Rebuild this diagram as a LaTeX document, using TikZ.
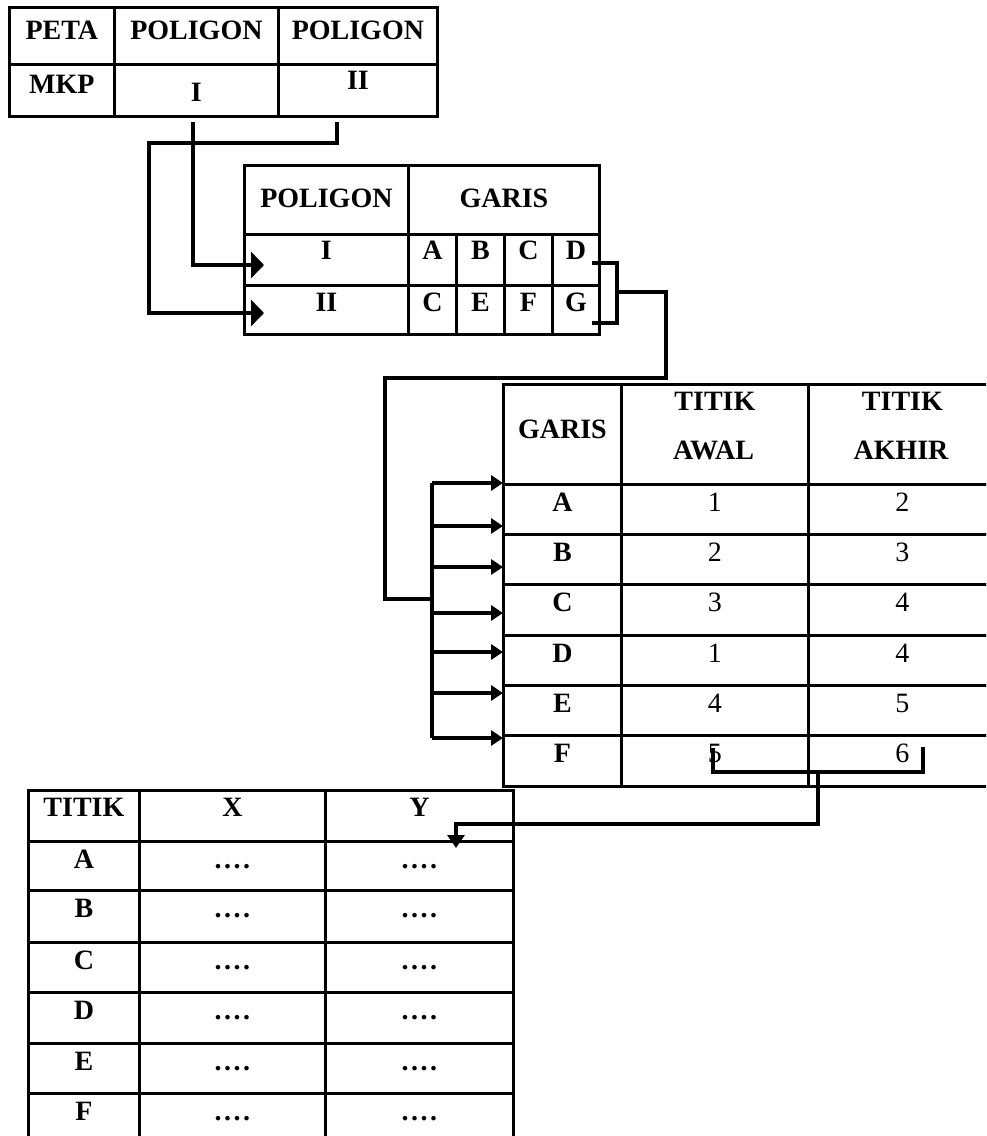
\documentclass[tikz,border=0pt]{standalone}
\usepackage{fontspec}
\setmainfont{Liberation Serif}
\usetikzlibrary{arrows.meta}
\newcommand\bigsz{\fontsize{28}{32}\selectfont}
\tikzset{
  cellbox/.style={draw, line width=2.8pt, inner sep=0pt, anchor=north west, font=\bigsz\bfseries},
  txt/.style={inner sep=0pt, anchor=base, font=\bigsz\bfseries},
  conn/.style={line width=3.2pt, line join=miter},
  arrbig/.style={-{Triangle[length=13pt,width=26pt]}},
  arrsmall/.style={-{Triangle[length=12pt,width=15pt]}},
  arrdown/.style={-{Triangle[length=13pt,width=17pt]}}
}
% name, x, y (top-left), width, height, text height, text depth, text
\newcommand\tcell[8]{\node[cellbox, minimum width=#4pt, minimum height=#5pt, text height=#6pt, text depth=#7pt] (#1) at (#2,#3) {#8};}
\newcommand\dotsfour{.\kern2.5pt.\kern2.5pt.\kern2.5pt.}

\begin{document}
\begin{tikzpicture}[x=1pt, y=-1pt]
\path[use as bounding box, fill=white] (0,0) rectangle (986,1136);
\clip (0,0) rectangle (986,1136);

% ---------- Table 1 ----------
\tcell{t1a}{8}{6}{105}{57}{32}{25}{PETA}
\tcell{t1b}{113}{6}{164}{57}{32}{25}{POLIGON}
\tcell{t1c}{277}{6}{159}{57}{32}{25}{POLIGON}
\tcell{t1d}{8}{63}{105}{52}{29}{23}{MKP}
\tcell{t1e}{113}{63}{164}{52}{37}{15}{I}
\tcell{t1f}{277}{63}{159}{52}{25}{27}{II}

% ---------- Table 2 ----------
\tcell{t2h1}{243}{164}{164}{69}{42}{27}{POLIGON}
\tcell{t2h2}{407}{164}{191}{69}{42}{27}{GARIS}
\tcell{t2i}{243}{233}{164}{51}{25}{26}{I}
\tcell{t2ia}{407}{233}{48}{51}{25}{26}{A}
\tcell{t2ib}{455}{233}{48}{51}{25}{26}{B}
\tcell{t2ic}{503}{233}{48}{51}{25}{26}{C}
\tcell{t2id}{551}{233}{47}{51}{25}{26}{D}
\tcell{t2ii}{243}{284}{164}{49}{26}{23}{II}
\tcell{t2iia}{407}{284}{48}{49}{26}{23}{C}
\tcell{t2iib}{455}{284}{48}{49}{26}{23}{E}
\tcell{t2iic}{503}{284}{48}{49}{26}{23}{F}
\tcell{t2iid}{551}{284}{47}{49}{26}{23}{G}

% ---------- Table 3 ----------
\tcell{t3h1}{502}{383}{118}{100}{54}{46}{GARIS}
\tcell{t3h2}{620}{383}{187}{100}{26}{74}{TITIK}
\tcell{t3h3}{807}{383}{188}{100}{26}{74}{TITIK}
\node[txt] (awal) at (713.5,459) {AWAL};
\node[txt] (akhir) at (901,459) {AKHIR};
\foreach \t/\h/\l/\p/\q [count=\i] in {483/50/A/1/2, 533/50/B/2/3, 583/51/C/3/4, 634/50/D/1/4, 684/50/E/4/5, 734/51/F/5/6}{
  \pgfmathtruncatemacro\d{\h-27}
  \tcell{t3r\i a}{502}{\t}{118}{\h}{27}{\d}{\l}
  \tcell{t3r\i b}{620}{\t}{187}{\h}{27}{\d}{\mdseries\p}
  \tcell{t3r\i c}{807}{\t}{188}{\h}{27}{\d}{\mdseries\q}
}

% ---------- Table 4 ----------
\tcell{t4h1}{27}{789}{111}{51}{26}{25}{TITIK}
\tcell{t4h2}{138}{789}{186}{51}{26}{25}{X}
\tcell{t4h3}{324}{789}{188}{51}{26}{25}{Y}
\foreach \t/\h/\l [count=\i] in {840/49/A, 889/52/B, 941/50/C, 991/51/D, 1042/50/E, 1092/50/F}{
  \pgfmathtruncatemacro\d{\h-27}
  \tcell{t4r\i a}{27}{\t}{111}{\h}{27}{\d}{\l}
  \tcell{t4r\i b}{138}{\t}{186}{\h}{27}{\d}{\dotsfour}
  \tcell{t4r\i c}{324}{\t}{188}{\h}{27}{\d}{\dotsfour}
}

% ---------- Connectors ----------
% Table 1 -> Table 2
\coordinate (pI) at (193,122);
\coordinate (qI) at (264,265);
\draw[conn, arrbig] (pI) |- (qI);
\coordinate (pII) at (337,122);
\coordinate (kII) at (149,143);
\coordinate (qII) at (264,313);
\draw[conn, arrbig] (pII) |- (kII) |- (qII);

% Table 2 -> Table 3
\coordinate (dA) at (592,263);
\coordinate (dB) at (617,323);
\coordinate (dC) at (592,323);
\draw[conn] (dA) -| (dB) -- (dC);
\coordinate (g0) at (618,292);
\coordinate (g1) at (666,378);
\coordinate (g2) at (385,599);
\coordinate (g3) at (432,599);
\draw[conn] (g0) -| (g1) -| (g2) -- (g3);
\coordinate (busT) at (432,483);
\coordinate (busB) at (432,738);
\draw[conn] (busT) -- (busB);
\foreach \y [count=\i] in {483,526,567,613,652,693,738}{
  \coordinate (bs\i) at (432,\y);
  \coordinate (be\i) at (503,\y);
  \draw[conn, arrsmall] (bs\i) -- (be\i);
}

% Table 3 -> Table 4
\coordinate (f5) at (713,748);
\coordinate (f6) at (923,772);
\coordinate (f6t) at (923,747);
\draw[conn] (f5) |- (f6) -- (f6t);
\coordinate (m0) at (818,772);
\coordinate (m1) at (456,824);
\coordinate (m2) at (456,848);
\draw[conn, arrdown] (m0) |- (m1) -- (m2);
\end{tikzpicture}
\end{document}
